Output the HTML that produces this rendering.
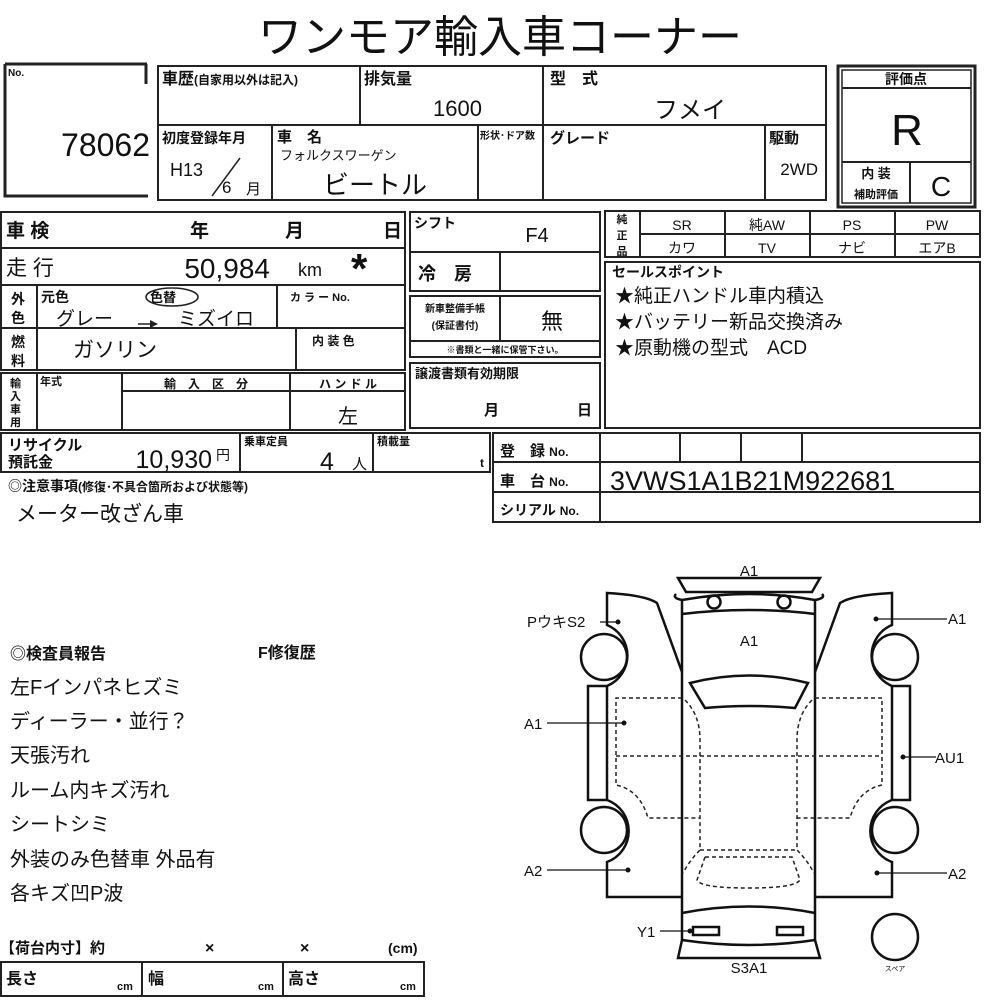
<!DOCTYPE html>
<html><head><meta charset="utf-8">
<style>
html,body{margin:0;padding:0;background:#fff;}
svg{display:block;}
text{font-family:"Liberation Sans","Noto Sans CJK JP",sans-serif;fill:#111;}
.b{font-weight:bold;}
</style></head><body>
<svg width="1000" height="1000" viewBox="0 0 1000 1000" xmlns="http://www.w3.org/2000/svg">
<g stroke="#222" fill="none" stroke-width="2">
<!-- No box -->
<path d="M5 64 H147 M146 64 V84 M5 64 V196 H148" stroke-width="3"/>
<!-- top table -->
<rect x="158" y="66" width="668" height="134"/>
<line x1="158" y1="125" x2="826" y2="125"/>
<line x1="360" y1="66" x2="360" y2="125"/>
<line x1="543" y1="66" x2="543" y2="200"/>
<line x1="272" y1="125" x2="272" y2="200"/>
<line x1="478" y1="125" x2="478" y2="200"/>
<line x1="765" y1="125" x2="765" y2="200"/>
<line x1="212" y1="196" x2="240" y2="158" stroke-width="1.5"/>
<!-- score -->
<rect x="838" y="66" width="137" height="141" stroke-width="3"/>
<rect x="842" y="70" width="129" height="133" stroke-width="1.5"/>
<line x1="842" y1="88" x2="971" y2="88"/>
<line x1="842" y1="162" x2="971" y2="162"/>
<line x1="910" y1="162" x2="910" y2="203"/>
<!-- left table -->
<rect x="1" y="212" width="404" height="158"/>
<line x1="1" y1="248" x2="405" y2="248"/>
<line x1="1" y1="285" x2="405" y2="285"/>
<line x1="1" y1="328" x2="405" y2="328"/>
<line x1="37" y1="285" x2="37" y2="370"/>
<line x1="277" y1="285" x2="277" y2="328"/>
<line x1="296" y1="328" x2="296" y2="370"/>
<rect x="1" y="373" width="404" height="57"/>
<line x1="37" y1="373" x2="37" y2="430"/>
<line x1="122" y1="373" x2="122" y2="430"/>
<line x1="290" y1="373" x2="290" y2="430"/>
<line x1="122" y1="391" x2="405" y2="391"/>
<rect x="1" y="433" width="489" height="39"/>
<line x1="240" y1="433" x2="240" y2="472"/>
<line x1="373" y1="433" x2="373" y2="472"/>
<!-- middle -->
<rect x="410" y="212" width="190" height="79"/>
<line x1="410" y1="252" x2="600" y2="252"/>
<line x1="500" y1="252" x2="500" y2="291"/>
<rect x="410" y="296" width="190" height="61"/>
<line x1="410" y1="341" x2="600" y2="341"/>
<line x1="500" y1="296" x2="500" y2="341"/>
<rect x="410" y="363" width="190" height="65"/>
<!-- right -->
<rect x="605" y="211" width="375" height="46"/>
<line x1="640" y1="234" x2="980" y2="234"/>
<line x1="640" y1="211" x2="640" y2="257"/>
<line x1="725" y1="211" x2="725" y2="257"/>
<line x1="810" y1="211" x2="810" y2="257"/>
<line x1="895" y1="211" x2="895" y2="257"/>
<rect x="605" y="262" width="375" height="166"/>
<rect x="493" y="433" width="487" height="89"/>
<line x1="493" y1="462" x2="980" y2="462"/>
<line x1="493" y1="492" x2="980" y2="492"/>
<line x1="600" y1="433" x2="600" y2="522"/>
<line x1="680" y1="433" x2="680" y2="462"/>
<line x1="741" y1="433" x2="741" y2="462"/>
<line x1="802" y1="433" x2="802" y2="462"/>
<!-- bottom table -->
<rect x="1" y="962" width="423" height="34"/>
<line x1="142" y1="962" x2="142" y2="996"/>
<line x1="283" y1="962" x2="283" y2="996"/>
<line x1="1" y1="996" x2="424" y2="996"/>
<ellipse cx="172" cy="297" rx="26" ry="9" stroke-width="1.5"/>
<path d="M138 324 H150" stroke-width="1.5"/>
</g>
<path d="M150 320 L158 324 L150 328Z" fill="#222"/>

<!-- texts -->
<text x="500" y="52" font-size="44" text-anchor="middle">ワンモア輸入車コーナー</text>
<text x="8" y="76" font-size="10" class="b">No.</text>
<text x="150" y="156" font-size="32" text-anchor="end">78062</text>
<text x="162" y="84" font-size="16" class="b">車歴<tspan font-size="12">(自家用以外は記入)</tspan></text>
<text x="364" y="84" font-size="16" class="b">排気量</text>
<text x="482" y="116" font-size="22" text-anchor="end">1600</text>
<text x="550" y="84" font-size="16" class="b">型　式</text>
<text x="690" y="118" font-size="24" text-anchor="middle">フメイ</text>
<text x="162" y="143" font-size="14" class="b">初度登録年月</text>
<text x="170" y="176" font-size="18">H13</text>
<text x="222" y="193" font-size="17">6</text>
<text x="246" y="194" font-size="15">月</text>
<text x="277" y="142" font-size="15" class="b">車　名</text>
<text x="280" y="160" font-size="13">フォルクスワーゲン</text>
<text x="375" y="194" font-size="26" text-anchor="middle">ビートル</text>
<text x="480" y="139" font-size="10" class="b">形状･ドア数</text>
<text x="550" y="143" font-size="15" class="b">グレード</text>
<text x="769" y="143" font-size="15" class="b">駆動</text>
<text x="818" y="175" font-size="17" text-anchor="end">2WD</text>
<text x="906" y="84" font-size="14" class="b" text-anchor="middle">評価点</text>
<text x="907" y="145" font-size="44" text-anchor="middle">R</text>
<text x="876" y="178" font-size="13" class="b" text-anchor="middle">内 装</text>
<text x="876" y="198" font-size="11" class="b" text-anchor="middle">補助評価</text>
<text x="941" y="196" font-size="28" text-anchor="middle">C</text>

<text x="6" y="237" font-size="19" class="b">車 検</text>
<text x="190" y="237" font-size="19" class="b">年</text>
<text x="285" y="237" font-size="19" class="b">月</text>
<text x="383" y="237" font-size="19" class="b">日</text>
<text x="6" y="275" font-size="21">走 行</text>
<text x="270" y="278" font-size="28" text-anchor="end">50,984</text>
<text x="298" y="276" font-size="18">km</text>
<text x="351" y="283" font-size="42" class="b">*</text>
<text x="11" y="304" font-size="14" class="b">外</text>
<text x="11" y="323" font-size="14" class="b">色</text>
<text x="41" y="302" font-size="14" class="b">元色</text>
<text x="150" y="302" font-size="13" class="b">色替</text>
<text x="56" y="325" font-size="19">グレー</text>
<text x="178" y="325" font-size="19">ミズイロ</text>
<text x="290" y="301" font-size="11" class="b">カ ラ ー No.</text>
<text x="11" y="347" font-size="14" class="b">燃</text>
<text x="11" y="366" font-size="14" class="b">料</text>
<text x="73" y="357" font-size="21">ガソリン</text>
<text x="312" y="345" font-size="12" class="b">内 装 色</text>
<text x="10" y="387" font-size="11" class="b">輸</text>
<text x="10" y="400" font-size="11" class="b">入</text>
<text x="10" y="413" font-size="11" class="b">車</text>
<text x="10" y="426" font-size="11" class="b">用</text>
<text x="40" y="385" font-size="11" class="b">年式</text>
<text x="206" y="388" font-size="12" class="b" text-anchor="middle">輸　入　区　分</text>
<text x="348" y="388" font-size="12" class="b" text-anchor="middle">ハ ン ド ル</text>
<text x="348" y="423" font-size="20" text-anchor="middle">左</text>
<text x="8" y="450" font-size="15" class="b">リサイクル</text>
<text x="8" y="467" font-size="15" class="b">預託金</text>
<text x="212" y="468" font-size="25" text-anchor="end">10,930</text>
<text x="216" y="460" font-size="14">円</text>
<text x="244" y="445" font-size="11" class="b">乗車定員</text>
<text x="327" y="470" font-size="25" text-anchor="middle">4</text>
<text x="352" y="469" font-size="15">人</text>
<text x="377" y="445" font-size="11" class="b">積載量</text>
<text x="480" y="467" font-size="12" class="b">t</text>
<text x="8" y="491" font-size="14" class="b">◎注意事項<tspan font-size="12">(修復･不具合箇所および状態等)</tspan></text>
<text x="16" y="521" font-size="21">メーター改ざん車</text>

<text x="414" y="228" font-size="14" class="b">シフト</text>
<text x="537" y="242" font-size="20" text-anchor="middle">F4</text>
<text x="418" y="280" font-size="18" class="b">冷　房</text>
<text x="455" y="312" font-size="10" class="b" text-anchor="middle">新車整備手帳</text>
<text x="455" y="329" font-size="10" class="b" text-anchor="middle">(保証書付)</text>
<text x="552" y="329" font-size="22" text-anchor="middle">無</text>
<text x="505" y="353" font-size="9" class="b" text-anchor="middle">※書類と一緒に保管下さい。</text>
<text x="415" y="378" font-size="13" class="b">譲渡書類有効期限</text>
<text x="484" y="415" font-size="15" class="b">月</text>
<text x="577" y="415" font-size="15" class="b">日</text>

<text x="622" y="223" font-size="11" class="b" text-anchor="middle">純</text>
<text x="622" y="239" font-size="11" class="b" text-anchor="middle">正</text>
<text x="622" y="255" font-size="11" class="b" text-anchor="middle">品</text>
<text x="682" y="230" font-size="14" text-anchor="middle">SR</text>
<text x="767" y="230" font-size="14" text-anchor="middle">純AW</text>
<text x="852" y="230" font-size="14" text-anchor="middle">PS</text>
<text x="937" y="230" font-size="14" text-anchor="middle">PW</text>
<text x="682" y="253" font-size="14" text-anchor="middle">カワ</text>
<text x="767" y="253" font-size="14" text-anchor="middle">TV</text>
<text x="852" y="253" font-size="14" text-anchor="middle">ナビ</text>
<text x="937" y="253" font-size="14" text-anchor="middle">エアB</text>
<text x="612" y="277" font-size="14" class="b">セールスポイント</text>
<text x="615" y="302" font-size="19">★純正ハンドル車内積込</text>
<text x="615" y="328" font-size="19">★バッテリー新品交換済み</text>
<text x="615" y="354" font-size="19">★原動機の型式　ACD</text>
<text x="500" y="456" font-size="15" class="b">登　録 <tspan font-size="12">No.</tspan></text>
<text x="500" y="486" font-size="15" class="b">車　台 <tspan font-size="12">No.</tspan></text>
<text x="500" y="515" font-size="14" class="b">シリアル <tspan font-size="12">No.</tspan></text>
<text x="610" y="490" font-size="27">3VWS1A1B21M922681</text>

<text x="10" y="659" font-size="16" class="b">◎検査員報告</text>
<text x="258" y="658" font-size="16" class="b">F修復歴</text>
<text x="10" y="694" font-size="20">左Fインパネヒズミ</text>
<text x="10" y="728" font-size="20">ディーラー・並行？</text>
<text x="10" y="762" font-size="20">天張汚れ</text>
<text x="10" y="797" font-size="20">ルーム内キズ汚れ</text>
<text x="10" y="831" font-size="20">シートシミ</text>
<text x="10" y="866" font-size="20">外装のみ色替車 外品有</text>
<text x="10" y="900" font-size="20">各キズ凹P波</text>
<text x="0" y="953" font-size="15" class="b">【荷台内寸】約</text>
<text x="205" y="953" font-size="16" class="b">×</text>
<text x="300" y="953" font-size="16" class="b">×</text>
<text x="388" y="953" font-size="14" class="b">(cm)</text>
<text x="6" y="984" font-size="16" class="b">長さ</text>
<text x="117" y="990" font-size="11" class="b">cm</text>
<text x="148" y="984" font-size="16" class="b">幅</text>
<text x="258" y="990" font-size="11" class="b">cm</text>
<text x="288" y="984" font-size="16" class="b">高さ</text>
<text x="400" y="990" font-size="11" class="b">cm</text>

<!-- Car diagram -->
<g stroke="#111" fill="none" stroke-width="2.5">
<path d="M678 578 H820 L812 592 H686 Z"/>
<path d="M682 600 Q749 588 815 600"/>
<path d="M682 600 V940 M815 600 V940"/>
<path d="M682 614 Q749 606 815 614"/>
<path d="M682 600 Q672 598 676 594 M815 600 Q826 598 822 594"/>
<circle cx="714" cy="602" r="6.5"/>
<circle cx="784" cy="602" r="6.5"/>
<path d="M690 683 Q749 668 808 683 L795 708 Q749 704 705 708 Z"/>
<path d="M682 913 Q749 900 815 913"/>
<rect x="693" y="927" width="26" height="8"/>
<rect x="777" y="927" width="26" height="8"/>
<path d="M682 940 Q749 950 815 940 L820 958 H678 Z"/>
<!-- left door/body panel -->
<path d="M682 672 L657 603 Q645 595 607 593 V625 A33 33 0 0 1 607 686 H588 V800 H607 A33 33 0 0 1 607 862 V897 H682"/>
<path d="M607 686 V800"/>
<circle cx="604" cy="657" r="23"/>
<circle cx="604" cy="830" r="23"/>
<!-- right -->
<path d="M815 672 L840 603 Q852 595 892 593 V625 A33 33 0 0 0 892 686 H910 V800 H892 A33 33 0 0 0 892 862 V897 H815"/>
<path d="M892 686 V800"/>
<circle cx="895" cy="657" r="23"/>
<circle cx="895" cy="830" r="23"/>
<circle cx="895" cy="937" r="23"/>
</g>
<g stroke="#222" fill="none" stroke-width="1.5" stroke-dasharray="4 3">
<path d="M682 698 H616 V785 Q640 790 648 818 H700"/>
<path d="M815 698 H882 V785 Q858 790 850 818 H797"/>
<path d="M616 756 H882"/>
<path d="M685 700 Q700 715 700 740 V850 Q690 860 683 873"/>
<path d="M812 700 Q797 715 797 740 V850 Q807 860 814 873"/>
<path d="M700 850 H797"/>
<path d="M705 857 H792 L800 880 Q795 888 749 888 Q700 888 697 880 Z"/>
</g>
<g fill="#111">
<circle cx="618" cy="622" r="2.5"/><circle cx="876" cy="619" r="2.5"/>
<circle cx="624" cy="723" r="2.5"/><circle cx="903" cy="757" r="2.5"/>
<circle cx="628" cy="870" r="2.5"/><circle cx="877" cy="873" r="2.5"/>
<circle cx="690" cy="931" r="2.5"/>
</g>
<g stroke="#111" stroke-width="1.3">
<line x1="600" y1="622" x2="618" y2="622"/>
<line x1="876" y1="619" x2="947" y2="619"/>
<line x1="547" y1="723" x2="624" y2="723"/>
<line x1="903" y1="757" x2="936" y2="757"/>
<line x1="547" y1="870" x2="628" y2="870"/>
<line x1="877" y1="873" x2="947" y2="873"/>
<line x1="660" y1="931" x2="690" y2="931"/>
</g>
<g font-size="15">
<text x="749" y="576" text-anchor="middle">A1</text>
<text x="749" y="646" text-anchor="middle">A1</text>
<text x="527" y="627">PウキS2</text>
<text x="948" y="624">A1</text>
<text x="524" y="729">A1</text>
<text x="935" y="763">AU1</text>
<text x="524" y="876">A2</text>
<text x="948" y="879">A2</text>
<text x="637" y="937">Y1</text>
<text x="749" y="973" text-anchor="middle">S3A1</text>
<text x="895" y="971" font-size="7" text-anchor="middle">スペア</text>
</g>
</svg>
</body></html>
